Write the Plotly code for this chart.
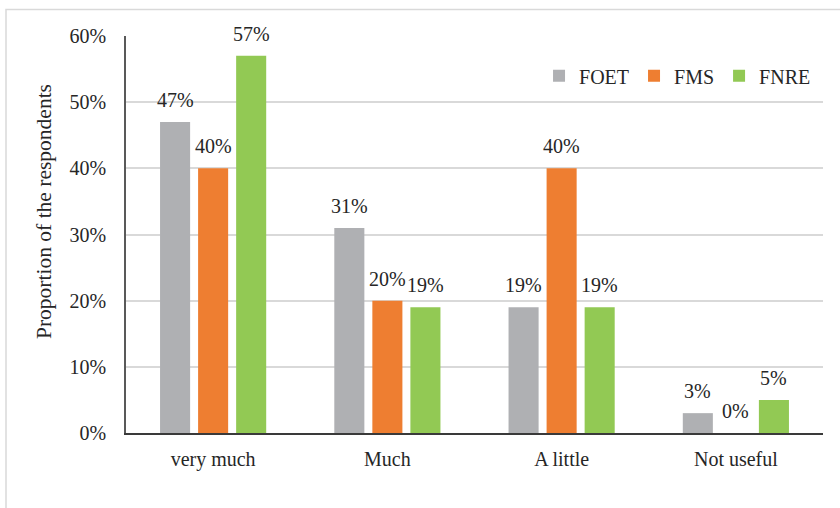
import plotly.graph_objects as go

categories = ["very much", "Much", "A little", "Not useful"]
foet = [47, 31, 19, 3]
fms = [40, 20, 40, 0]
fnre = [57, 19, 19, 5]
y_ticks = [0, 10, 20, 30, 40, 50, 60]
y_tick_labels = [f"{v}%" for v in y_ticks]

series = [("FOET", foet, "#AFB0B3"), ("FMS", fms, "#EE7E31"), ("FNRE", fnre, "#92C954")]

FONT = "Liberation Serif"
TXT = "#262626"
FS = 20
BARGAP = 0.345
GROUPGAP = 0.21

fig = go.Figure()
for name, vals, color in series:
    fig.add_trace(go.Bar(
        x=categories, y=vals, name=name,
        marker=dict(color=color, line=dict(width=0)),
    ))

# value labels above each bar, offset to the bar's slot within its group
slot = (1 - BARGAP) / len(series)
annotations = []
for k, (name, vals, color) in enumerate(series):
    off = (k - (len(series) - 1) / 2) * slot
    for i, v in enumerate(vals):
        annotations.append(dict(
            x=i + off, y=v, xref="x", yref="y", text=f"{v}%",
            showarrow=False, xanchor="center", yanchor="middle", yshift=22,
            font=dict(family=FONT, size=FS, color=TXT),
        ))

W, H = 840, 508
L, R, T, B = 126, 17, 36, 75

annotations.append(dict(
    text="Proportion of the respondents", textangle=-90,
    xref="paper", yref="paper",
    x=(44 - L) / (W - L - R), y=(H - B - 212) / (H - T - B),
    xanchor="center", yanchor="middle", showarrow=False,
    font=dict(family=FONT, size=21.5, color=TXT),
))

fig.update_layout(
    width=W, height=H,
    margin=dict(l=L, r=R, t=T, b=B),
    paper_bgcolor="white", plot_bgcolor="white",
    barmode="group", bargap=BARGAP, bargroupgap=GROUPGAP,
    font=dict(family=FONT, size=FS, color=TXT),
    legend=dict(orientation="h", x=0.99, xanchor="right", y=0.9, yanchor="middle",
                font=dict(family=FONT, size=FS, color=TXT),
                bgcolor="rgba(0,0,0,0)", itemwidth=30, traceorder="normal"),
    xaxis=dict(showline=True, linecolor="#3a3a3a", linewidth=2, ticks="",
               tickfont=dict(family=FONT, size=FS, color=TXT), ticklabelstandoff=7),
    yaxis=dict(range=[0, 60], tickvals=y_ticks, ticktext=y_tick_labels,
               showgrid=True, gridcolor="#D9D9D9", gridwidth=1.5,
               showline=True, linecolor="#595959", linewidth=1.5, ticks="",
               zeroline=False,
               tickfont=dict(family=FONT, size=FS, color=TXT), ticklabelstandoff=14),
    annotations=annotations,
    shapes=[dict(
        type="rect", xref="paper", yref="paper",
        x0=(6 - L) / (W - L - R), x1=(W + 20 - L) / (W - L - R),
        y0=(H - B - (H + 20)) / (H - T - B), y1=(H - B - 9.5) / (H - T - B),
        line=dict(color="#D9D9D9", width=1.5), fillcolor="rgba(0,0,0,0)", layer="below",
    )],
)

fig.write_html("out.html")
